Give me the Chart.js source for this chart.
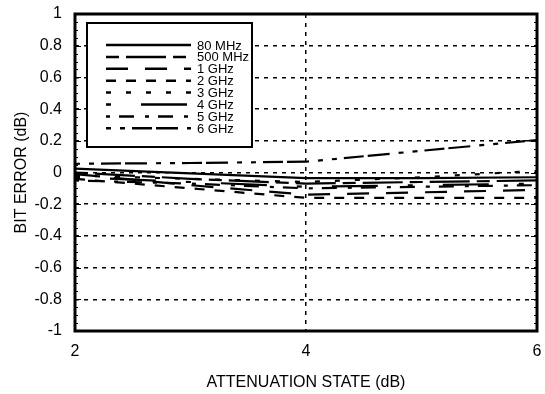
<!DOCTYPE html>
<html><head><meta charset="utf-8">
<script src="https://cdn.jsdelivr.net/npm/chart.js@4/dist/chart.umd.min.js"></script>
<style>html,body{margin:0;padding:0;background:#fff}</style>
</head><body>
<canvas id="c" width="545" height="394"></canvas>
<script>
const attenuation = [2, 3, 4, 5, 6];
const seriesNames = ['80 MHz', '500 MHz', '1 GHz', '2 GHz', '3 GHz', '4 GHz', '5 GHz', '6 GHz'];
const err80MHz  = [0.025, -0.005, -0.035, -0.035, -0.03];
const err500MHz = [0.0, -0.04, -0.07, -0.06, -0.05];
const err1GHz   = [-0.01, -0.08, -0.14, -0.125, -0.11];
const err2GHz   = [-0.04, -0.10, -0.16, -0.16, -0.16];
const err3GHz   = [-0.02, -0.04, -0.06, -0.03, 0.01];
const err4GHz   = [-0.03, -0.06, -0.09, -0.08, -0.07];
const err5GHz   = [-0.05, -0.07, -0.10, -0.09, -0.08];
const err6GHz   = [0.055, 0.06, 0.068, 0.137, 0.205];
const yTickValues = [-1, -0.8, -0.6, -0.4, -0.2, 0, 0.2, 0.4, 0.6, 0.8, 1];
const xTickValues = [2, 4, 6];

const seriesValues = [err80MHz, err500MHz, err1GHz, err2GHz, err3GHz, err4GHz, err5GHz, err6GHz];
const dashes = [[], [13,7,40,7], [22,17], [10,10], [5,15], [5,30,46,30], [4,9,15,11], [5,9,5,7,20,4,22,9]];

const datasets = seriesValues.map((vals, i) => ({
  label: seriesNames[i],
  data: attenuation.map((x, j) => ({x: x, y: vals[j]})),
  borderColor: '#000',
  borderWidth: 2.2,
  borderDash: dashes[i],
  pointRadius: 0,
  fill: false,
  tension: 0
}));

const FONT = 'Liberation Sans, Arial, sans-serif';

function zeroPad(s) { s.paddingTop = 0; s.paddingBottom = 0; s.paddingLeft = 0; s.paddingRight = 0; }

const framePlugin = {
  id: 'frame',
  afterDraw(chart) {
    const ctx = chart.ctx, a = chart.chartArea;
    const ys = chart.scales.y;
    ctx.save();
    ctx.strokeStyle = '#000';
    ctx.setLineDash([]);
    ctx.lineWidth = 1;
    for (let k = -20; k <= 20; k++) {
      const v = k * 0.05;
      const py = Math.round(ys.getPixelForValue(v)) + 0.5;
      const len = (k % 4 === 0) ? 6 : 3;
      ctx.beginPath();
      ctx.moveTo(a.left, py); ctx.lineTo(a.left + len, py);
      ctx.moveTo(a.right, py); ctx.lineTo(a.right - len, py);
      ctx.stroke();
    }
    ctx.lineWidth = 3;
    ctx.strokeRect(a.left, a.top, a.right - a.left, a.bottom - a.top);
    const bx = 87, by = 23, bw = 165, bh = 124;
    ctx.fillStyle = '#fff';
    ctx.fillRect(bx, by, bw, bh);
    ctx.lineWidth = 2;
    ctx.strokeRect(bx, by, bw, bh);
    ctx.font = '13px ' + FONT;
    ctx.textBaseline = 'middle';
    ctx.textAlign = 'left';
    ctx.fillStyle = '#000';
    chart.data.datasets.forEach((ds, i) => {
      const ry = 45 + i * 11.9;
      ctx.lineWidth = 2.5;
      ctx.setLineDash(ds.borderDash);
      ctx.beginPath();
      ctx.moveTo(106, ry); ctx.lineTo(191, ry);
      ctx.stroke();
      ctx.setLineDash([]);
      ctx.fillText(ds.label, 197, ry + 1);
    });
    ctx.restore();
  }
};

new Chart(document.getElementById('c'), {
  type: 'line',
  data: { datasets },
  options: {
    responsive: false,
    animation: false,
    devicePixelRatio: 1,
    layout: { padding: { top: 14, right: 8, left: 0, bottom: 0 } },
    plugins: { legend: { display: false }, tooltip: { enabled: false } },
    scales: {
      x: {
        type: 'linear', min: 2, max: 6,
        afterBuildTicks: s => { s.ticks = xTickValues.map(v => ({value: v})); },
        afterFit: s => { s.height = 63; zeroPad(s); },
        grid: {
          drawTicks: false,
          lineWidth: 1.5,
          color: c => (c.tick && (c.tick.value === 2 || c.tick.value === 6)) ? 'rgba(0,0,0,0)' : '#000'
        },
        border: { display: false, dash: [4, 5] },
        ticks: { color: '#000', font: { family: FONT, size: 16 }, padding: 11, maxRotation: 0 },
        title: { display: true, text: 'ATTENUATION STATE (dB)', color: '#000', font: { family: FONT, size: 16 }, padding: { top: 0, bottom: 2 } }
      },
      y: {
        type: 'linear', min: -1, max: 1,
        afterBuildTicks: s => { s.ticks = yTickValues.map(v => ({value: v})); },
        afterFit: s => { s.width = 75; zeroPad(s); },
        grid: {
          drawTicks: false,
          lineWidth: 1.5,
          color: c => (c.tick && Math.abs(Math.abs(c.tick.value) - 1) < 1e-9) ? 'rgba(0,0,0,0)' : '#000'
        },
        border: { display: false, dash: [4, 5] },
        ticks: {
          color: '#000', font: { family: FONT, size: 16 }, padding: 13,
          callback: v => String(Math.round(v * 10) / 10)
        },
        title: { display: true, text: 'BIT ERROR (dB)', color: '#000', font: { family: FONT, size: 16 }, padding: { top: 12, bottom: 0 } }
      }
    }
  },
  plugins: [framePlugin]
});
</script>
</body></html>
